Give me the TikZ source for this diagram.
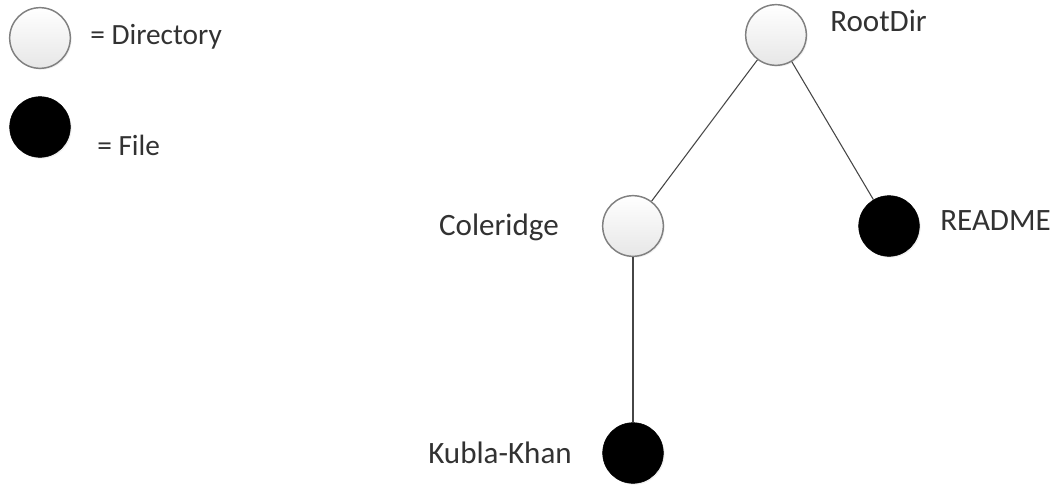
\documentclass[tikz,border=0pt]{standalone}
\usepackage{fontspec}
\setmainfont{Carlito}
\usepackage{xcolor}
\usetikzlibrary{shadows}
\definecolor{dirfill}{RGB}{242, 242, 242}
\definecolor{dirline}{RGB}{128, 128, 128}
\definecolor{edgeline}{RGB}{70, 70, 70}
\definecolor{labeltext}{RGB}{50, 50, 50}

\begin{document}
\begin{tikzpicture}[x=0.75pt, y=-0.75pt,
        dir/.style={circle, draw=dirline, line width=1.1pt, top color=white, bottom color=dirfill!90!gray,
            minimum size=45.5pt, inner sep=0pt,
            drop shadow={opacity=0.12, shadow xshift=1pt, shadow yshift=-1pt}},
        file/.style={circle, fill=black, draw=black, minimum size=45.5pt, inner sep=0pt,
            drop shadow={opacity=0.12, shadow xshift=1pt, shadow yshift=-1pt}},
        lbl/.style={anchor=base west, inner sep=0pt, text=labeltext, font=\fontsize{23.3}{27}\selectfont},
        leglbl/.style={lbl, font=\fontsize{22}{26}\selectfont},
        edge/.style={draw=edgeline, line width=0.8pt}]
    \useasboundingbox (0,0) rectangle (1055,485);
    % legend
    \node[dir] (legdir) at (40,38) {};
    \node[leglbl] (legdirlbl) at (90,45) {= Directory};
    \node[file] (legfile) at (40,127) {};
    \node[leglbl] (legfilelbl) at (97,155) {= File};
    % tree
    \node[dir] (rootdir) at (776,35) {};
    \node[lbl] (rootdirlbl) at (830,32) {RootDir};
    \node[dir] (coleridge) at (633,226) {};
    \node[lbl, anchor=base east] (coleridgelbl) at (559,235) {Coleridge};
    \node[file] (readme) at (889,226) {};
    \node[lbl] (readmelbl) at (940,230) {README};
    \node[file] (kubla) at (633,453) {};
    \node[lbl, anchor=base east] (kublalbl) at (572,463) {Kubla-Khan};
    \draw[edge] (rootdir) -- (coleridge);
    \draw[edge] (rootdir) -- (readme);
    \draw[edge] (coleridge) -- (kubla);
\end{tikzpicture}
\end{document}
